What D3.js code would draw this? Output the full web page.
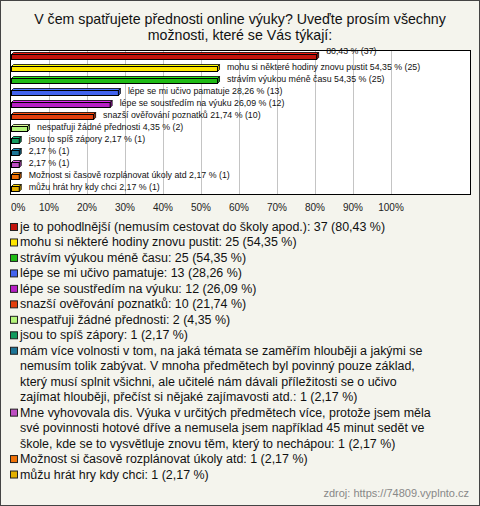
<!DOCTYPE html>
<html><head><meta charset="utf-8">
<script src="https://cdn.jsdelivr.net/npm/d3@7/dist/d3.min.js"></script>
<style>body{margin:0;padding:0;background:#fff}svg{display:block}</style>
</head><body>
<script>
const titleLines = ["V čem spatřujete přednosti online výuky? Uveďte prosím všechny", "možnosti, které se Vás týkají:"];
const categories = [
  "je to pohodlnější (nemusím cestovat do školy apod.)",
  "mohu si některé hodiny znovu pustit",
  "strávím výukou méně času",
  "lépe se mi učivo pamatuje",
  "lépe se soustředím na výuku",
  "snazší ověřování poznatků",
  "nespatřuji žádné přednosti",
  "jsou to spíš zápory",
  "mám více volnosti v tom, na jaká témata se zaměřím hlouběji a jakými se nemusím tolik zabývat. V mnoha předmětech byl povinný pouze základ, který musí splnit všichni, ale učitelé nám dávali příležitosti se o učivo zajímat hlouběji, přečíst si nějaké zajímavosti atd.",
  "Mne vyhovovala dis. Výuka v určitých předmětech více, protože jsem měla své povinnosti hotové dříve a nemusela jsem například 45 minut sedět ve škole, kde se to vysvětluje znovu těm, který to nechápou",
  "Možnost si časově rozplánovat úkoly atd",
  "můžu hrát hry kdy chci"
];
const counts = [37, 25, 25, 13, 12, 10, 2, 1, 1, 1, 1, 1];
const percents = [80.43, 54.35, 54.35, 28.26, 26.09, 21.74, 4.35, 2.17, 2.17, 2.17, 2.17, 2.17];
const showNameOnBar = [false, true, true, true, true, true, true, true, false, false, true, true];
const colors = ["#c3140c", "#ffe600", "#1fbb14", "#4263ee", "#b61fc4", "#e23f0e", "#b4f57a", "#129a5e", "#1d7596", "#bd4fc2", "#ef7208", "#e2b000"];
const ticks = [0, 10, 20, 30, 40, 50, 60, 70, 80, 90, 100];
const legendLines = [
  ["je to pohodlnější (nemusím cestovat do školy apod.): 37 (80,43 %)"],
  ["mohu si některé hodiny znovu pustit: 25 (54,35 %)"],
  ["strávím výukou méně času: 25 (54,35 %)"],
  ["lépe se mi učivo pamatuje: 13 (28,26 %)"],
  ["lépe se soustředím na výuku: 12 (26,09 %)"],
  ["snazší ověřování poznatků: 10 (21,74 %)"],
  ["nespatřuji žádné přednosti: 2 (4,35 %)"],
  ["jsou to spíš zápory: 1 (2,17 %)"],
  ["mám více volnosti v tom, na jaká témata se zaměřím hlouběji a jakými se",
   "nemusím tolik zabývat. V mnoha předmětech byl povinný pouze základ,",
   "který musí splnit všichni, ale učitelé nám dávali příležitosti se o učivo",
   "zajímat hlouběji, přečíst si nějaké zajímavosti atd.: 1 (2,17 %)"],
  ["Mne vyhovovala dis. Výuka v určitých předmětech více, protože jsem měla",
   "své povinnosti hotové dříve a nemusela jsem například 45 minut sedět ve",
   "škole, kde se to vysvětluje znovu těm, který to nechápou: 1 (2,17 %)"],
  ["Možnost si časově rozplánovat úkoly atd: 1 (2,17 %)"],
  ["můžu hrát hry kdy chci: 1 (2,17 %)"]
];
const source = "zdroj: https://74809.vyplnto.cz";

const W = 480, H = 506;
const fmt = v => v.toFixed(2).replace(".", ",");
const svg = d3.select("body").append("svg").attr("width", W).attr("height", H);
const font = "'Liberation Sans', Arial, sans-serif";

svg.append("rect").attr("x", 0.5).attr("y", 0.5).attr("width", W - 1).attr("height", H - 1)
  .attr("fill", "#f4f4ed").attr("stroke", "#444");

svg.append("g").selectAll("text").data(titleLines).join("text")
  .attr("x", 240).attr("y", (d, i) => 24 + i * 16)
  .attr("text-anchor", "middle").attr("font-family", font).attr("font-size", 14.2)
  .attr("fill", "#111").text(d => d);

const plot = {x0: 10.5, y0: 50.5, x1: 470.5, y1: 194.5};
const x = d3.scaleLinear().domain([0, 100]).range([11, 391]);
const y = d3.scaleBand().domain(d3.range(categories.length)).range([50, 194]);

svg.append("rect").attr("x", plot.x0).attr("y", plot.y0)
  .attr("width", plot.x1 - plot.x0).attr("height", plot.y1 - plot.y0)
  .attr("fill", "#fff");

svg.append("g").selectAll("line").data(ticks.filter(t => t > 0)).join("line")
  .attr("x1", d => Math.round(x(d)) + 0.5).attr("x2", d => Math.round(x(d)) + 0.5)
  .attr("y1", plot.y0).attr("y2", plot.y1).attr("stroke", "#c4c4c4");

svg.append("rect").attr("x", plot.x0).attr("y", plot.y0)
  .attr("width", plot.x1 - plot.x0).attr("height", plot.y1 - plot.y0)
  .attr("fill", "none").attr("stroke", "#000");

const d3d = 2, bh = 5;
const bars = svg.append("g").selectAll("g").data(percents).join("g");
bars.each(function(p, i) {
  const g = d3.select(this);
  const cy = y(i) + y.bandwidth() / 2 + 0.5;
  const x0 = x(0) + 0.5, x1 = x(p);
  const yt = Math.round(cy - bh / 2) + 0.5;
  const c = d3.color(colors[i]);
  g.append("polygon")
    .attr("points", [[x0, yt], [x0 + d3d, yt - d3d], [x1 + d3d, yt - d3d], [x1, yt]].join(" "))
    .attr("fill", c.brighter(0.6)).attr("stroke", "#000").attr("stroke-width", 0.8);
  g.append("polygon")
    .attr("points", [[x1, yt], [x1 + d3d, yt - d3d], [x1 + d3d, yt + bh - d3d], [x1, yt + bh]].join(" "))
    .attr("fill", c.darker(0.6)).attr("stroke", "#000").attr("stroke-width", 0.8);
  g.append("rect").attr("x", x0).attr("y", yt).attr("width", x1 - x0).attr("height", bh)
    .attr("fill", colors[i]).attr("stroke", "#000").attr("stroke-width", 1);
  const lab = (showNameOnBar[i] ? categories[i] + " " : "") + fmt(p) + " % (" + counts[i] + ")";
  g.append("text").attr("x", x1 + 9.5).attr("y", cy + 1 - (i === 0 ? 4 : 0))
    .attr("font-family", font).attr("font-size", 8.8).attr("fill", "#111").text(lab);
});

svg.append("g").selectAll("text").data(ticks).join("text")
  .attr("x", d => x(d))
  .attr("text-anchor", d => d === 0 ? "start" : "middle")
  .attr("y", 211).attr("font-family", font).attr("font-size", 10).attr("fill", "#222")
  .text(d => d + "%");

const lh = 15.47;
let line = 0;
const lg = svg.append("g");
legendLines.forEach((lines, i) => {
  const base = 231 + line * lh;
  lg.append("rect").attr("x", 10.5).attr("y", base - 7.5).attr("width", 7).attr("height", 7)
    .attr("fill", colors[i]).attr("stroke", "#222");
  lines.forEach((t, k) => {
    lg.append("text").attr("x", 20).attr("y", base + k * lh)
      .attr("font-family", font).attr("font-size", 12.45).attr("fill", "#111").text(t);
  });
  line += lines.length;
});

svg.append("text").attr("x", 469).attr("y", 497).attr("text-anchor", "end")
  .attr("font-family", font).attr("font-size", 11).attr("fill", "#888").text(source);
</script>
</body></html>
